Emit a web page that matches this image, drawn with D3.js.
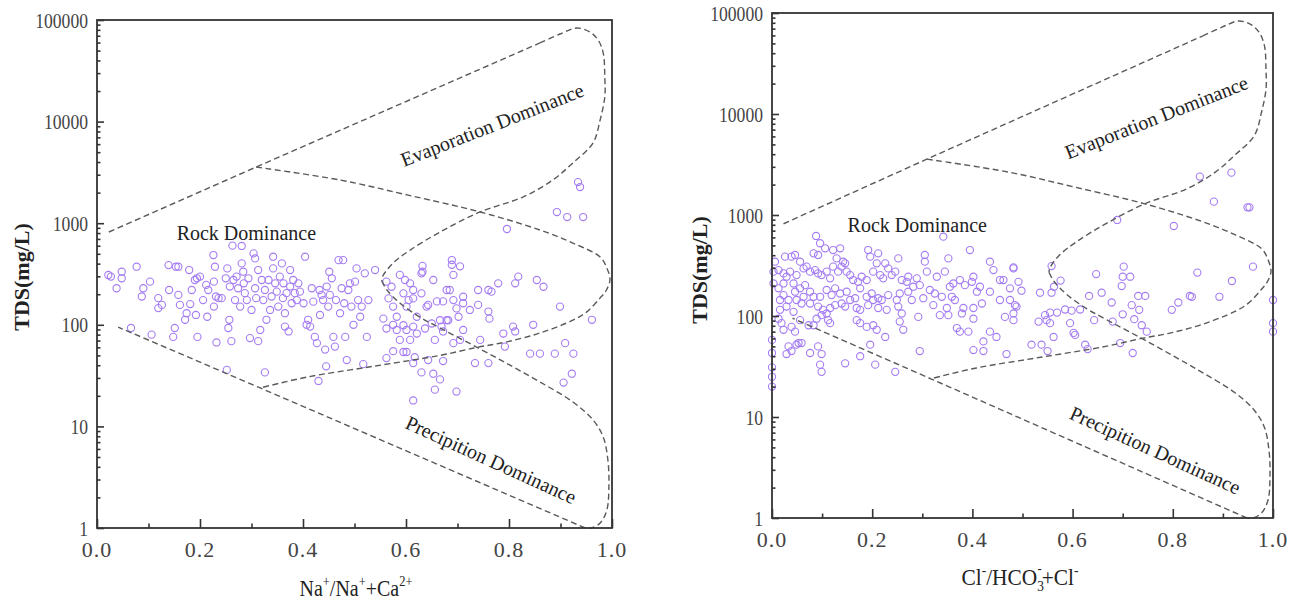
<!DOCTYPE html>
<html><head><meta charset="utf-8">
<script src="https://cdn.jsdelivr.net/npm/d3@7/dist/d3.min.js"></script>
<style>body{margin:0;background:#fff}svg{display:block}</style>
</head><body>
<svg id="c" width="1291" height="602"></svg>
<script>
// ---------- tick values & labels ----------
const xMajorTicks = [0, 0.2, 0.4, 0.6, 0.8, 1.0];
const xMajorLabels = ["0.0", "0.2", "0.4", "0.6", "0.8", "1.0"];
const xMinorTicks = [0.1, 0.3, 0.5, 0.7, 0.9];
const yMajorTicks = [1, 10, 100, 1000, 10000, 100000];
const yMajorLabels = ["1", "10", "100", "1000", "10000", "100000"];
const yMinorTicks = [2,3,4,5,6,7,8,9, 20,30,40,50,60,70,80,90, 200,300,400,500,600,700,800,900,
  2000,3000,4000,5000,6000,7000,8000,9000, 20000,30000,40000,50000,60000,70000,80000,90000];

// ---------- Gibbs boundary curves [x, TDS] ----------
const upperLine = [[0.023, 819], [0.309, 3570], [0.860, 59400]];
const evapLoop = [[0.860, 59400], [0.899, 72800], [0.932, 83400], [0.957, 76200], [0.973, 63600],
  [0.983, 47300], [0.986, 27500], [0.986, 17500], [0.977, 10400], [0.963, 6150], [0.924, 3920],
  [0.885, 2660], [0.827, 1810], [0.744, 1290], [0.666, 818], [0.608, 544], [0.575, 406],
  [0.555, 302], [0.553, 270]];
const precipLoop = [[0.553, 270], [0.563, 220], [0.588, 164], [0.627, 119], [0.666, 93], [0.738, 60],
  [0.802, 40], [0.860, 27.4], [0.924, 17.4], [0.963, 11.6], [0.983, 7.87], [0.992, 4.67],
  [0.994, 2.65], [0.990, 1.50], [0.977, 1.12], [0.960, 1.0], [0.948, 1.0]];
const lowerLine = [[0.948, 1.0], [0.317, 23.9], [0.041, 95]];
const innerCurve = [[0.309, 3570], [0.472, 2660], [0.602, 1900], [0.744, 1290], [0.860, 857],
  [0.924, 638], [0.977, 465], [0.990, 362], [0.996, 276], [0.988, 215], [0.977, 184], [0.951, 134],
  [0.924, 111], [0.860, 83], [0.796, 68], [0.738, 60], [0.666, 50], [0.536, 39], [0.408, 30.6],
  [0.317, 23.9]];

// ---------- samples: Na+/(Na+ + Ca2+) vs TDS ----------
const leftPoints = [
 [0.022,309],[0.027,298],[0.048,333],[0.048,287],[0.038,229],[0.066,93],[0.077,373],[0.087,190],[0.090,229],
 [0.103,266],[0.106,80],[0.119,183],[0.119,146],[0.126,157],[0.139,387],[0.140,220],[0.148,76],[0.151,93],
 [0.153,373],[0.158,373],[0.158,197],[0.161,157],[0.171,112],[0.174,130],[0.179,346],[0.181,160],[0.184,220],
 [0.190,276],[0.194,287],[0.192,125],[0.195,76],[0.200,298],[0.206,175],[0.212,247],[0.214,120],[0.216,220],
 [0.226,486],[0.227,266],[0.229,373],[0.227,151],[0.231,190],[0.232,67],[0.236,183],[0.242,183],[0.250,287],
 [0.253,359],[0.252,36],[0.255,93],[0.257,112],[0.258,238],[0.261,69],[0.263,601],[0.265,276],[0.268,175],
 [0.271,298],[0.274,229],[0.278,151],[0.281,597],[0.281,402],[0.284,333],[0.285,256],[0.287,205],[0.291,175],
 [0.294,287],[0.297,74],[0.300,140],[0.304,505],[0.307,450],[0.307,229],[0.309,183],[0.313,346],[0.313,69],
 [0.317,89],[0.320,276],[0.323,175],[0.326,220],[0.326,34],[0.329,112],[0.333,276],[0.336,140],[0.339,190],
 [0.342,468],[0.342,359],[0.346,256],[0.349,212],[0.352,151],[0.355,298],[0.359,402],[0.361,183],[0.362,256],
 [0.365,96],[0.365,130],[0.368,205],[0.372,86],[0.375,346],[0.375,238],[0.378,163],[0.381,276],[0.384,205],
 [0.388,175],[0.391,256],[0.394,212],[0.401,163],[0.404,468],[0.407,100],[0.410,112],[0.414,96],[0.417,229],
 [0.420,169],[0.423,76],[0.427,66],[0.430,28],[0.432,220],[0.433,125],[0.436,197],[0.439,175],[0.443,57],
 [0.445,39],[0.446,238],[0.449,151],[0.451,333],[0.452,197],[0.456,287],[0.459,76],[0.462,61],[0.464,175],
 [0.469,433],[0.472,130],[0.475,229],[0.478,433],[0.480,163],[0.482,76],[0.485,45],[0.488,220],[0.491,256],
 [0.494,151],[0.498,100],[0.501,266],[0.504,359],[0.507,175],[0.511,120],[0.514,151],[0.517,41],[0.520,321],
 [0.524,76],[0.527,175],
 [0.540,346],[0.632,380],[0.632,333],[0.689,434],[0.689,390],[0.705,376],[0.692,310],[0.562,266],[0.572,237],
 [0.588,310],[0.598,276],[0.608,256],[0.614,220],[0.630,321],[0.653,276],[0.679,220],[0.685,220],[0.711,189],
 [0.740,220],[0.760,220],[0.766,212],[0.779,256],[0.812,256],[0.818,298],[0.854,276],[0.867,237],[0.899,151],
 [0.961,112],[0.566,182],[0.575,151],[0.582,120],[0.595,204],[0.601,151],[0.605,175],[0.614,182],[0.621,120],
 [0.630,204],[0.640,151],[0.643,157],[0.650,103],[0.660,170],[0.666,111],[0.672,170],[0.679,111],[0.682,111],
 [0.692,175],[0.698,145],[0.702,120],[0.711,163],[0.724,140],[0.740,157],[0.760,135],[0.762,115],[0.789,82],
 [0.808,96],[0.812,86],[0.847,100],[0.841,52],[0.860,52],[0.889,52],[0.909,66],[0.925,52],[0.922,33],
 [0.906,27],[0.556,115],[0.562,92],[0.575,100],[0.582,89],[0.588,71],[0.595,99],[0.601,89],[0.608,71],
 [0.614,96],[0.621,82],[0.637,92],[0.656,71],[0.669,96],[0.672,86],[0.692,66],[0.705,71],[0.711,89],
 [0.744,71],[0.792,61],[0.734,42],[0.760,42],[0.562,47],[0.575,55],[0.595,54],[0.601,54],[0.614,42],
 [0.617,48],[0.630,34],[0.643,45],[0.653,33],[0.666,29],[0.656,23],[0.672,44],[0.698,22],[0.614,18],
 [0.893,1288],[0.913,1150],[0.944,1150],[0.796,877],[0.934,2540],[0.938,2270]
];

// ---------- samples: Cl-/(HCO3- + Cl-) vs TDS ----------
const rightPoints = [
 [0.088,620],[0.096,525],[0.083,417],[0.092,402],[0.106,468],[0.122,450],[0.136,468],[0.129,372],[0.142,345],
 [0.026,387],[0.039,387],[0.046,402],[0.056,345],[0.006,345],[0.003,275],[0.013,285],[0.023,264],[0.029,245],
 [0.036,275],[0.049,254],[0.063,296],[0.069,308],[0.076,275],[0.086,285],[0.092,264],[0.099,254],[0.109,275],
 [0.116,236],[0.122,308],[0.132,275],[0.139,308],[0.146,332],[0.149,275],[0.156,254],[0.162,227],[0.172,218],
 [0.179,245],[0.189,227],[0.192,450],[0.196,387],[0.209,332],[0.212,417],[0.226,332],[0.202,275],[0.216,254],
 [0.222,236],[0.232,296],[0.239,254],[0.246,275],[0.252,372],[0.259,227],[0.269,218],[0.272,245],[0.282,195],
 [0.289,236],[0.305,402],[0.305,345],[0.309,275],[0.315,181],[0.325,167],[0.329,245],[0.339,155],[0.342,610],
 [0.345,275],[0.352,372],[0.355,195],[0.362,210],[0.375,227],[0.385,202],[0.395,450],[0.399,218],[0.409,174],
 [0.435,345],[0.442,285],[0.455,227],[0.462,227],[0.482,296],[0.492,218],[0.402,245],[0.415,195],[0.295,202],
 [0.302,150],
 [0.003,210],[0.013,188],[0.023,210],[0.043,210],[0.046,174],[0.056,188],[0.066,202],[0.076,174],[0.016,144],
 [0.023,161],[0.033,144],[0.049,144],[0.063,155],[0.083,155],[0.096,155],[0.109,181],[0.119,161],[0.126,188],
 [0.136,167],[0.149,174],[0.139,133],[0.156,144],[0.166,150],[0.176,188],[0.189,155],[0.199,167],[0.202,144],
 [0.212,150],[0.219,144],[0.232,161],[0.249,144],[0.255,167],[0.272,174],[0.279,144],[0.322,128],[0.349,120],
 [0.359,155],[0.365,144],[0.382,120],[0.402,120],[0.419,133],[0.435,174],[0.455,144],[0.475,144],[0.488,124],
 [0.016,115],[0.029,124],[0.043,110],[0.059,133],[0.076,133],[0.092,124],[0.102,115],[0.116,120],[0.126,128],
 [0.146,124],[0.169,120],[0.176,115],[0.192,128],[0.212,120],[0.229,115],[0.252,124],[0.259,106],[0.292,98],
 [0.335,102],[0.352,102],[0.379,106],[0.402,94],[0.465,98],[0.482,91],
 [0.013,94],[0.019,85],[0.023,73],[0.039,78],[0.056,91],[0.073,81],[0.083,81],[0.089,94],[0.099,102],
 [0.109,106],[0.112,91],[0.116,85],[0.169,91],[0.176,85],[0.189,78],[0.202,81],[0.209,73],[0.226,62],
 [0.255,88],[0.262,73],[0.369,76],[0.375,70],[0.392,70],[0.435,70],[0.448,62],[0.046,70],[0.053,54],
 [0.059,54],[0.033,50],[0.029,42],[0.039,45],[0.049,52],[0.076,43],[0.092,50],[0.099,42],[0.096,33],
 [0.099,28],[0.146,34],[0.176,40],[0.196,52],[0.206,33],[0.246,28],[0.295,45],[0.402,46],[0.422,45],
 [0.422,56],[0.468,42],[0.0,58],[0.0,43],[0.0,31],[0.0,25],[0.0,20],
 [0.854,2400],[0.917,2625],[0.882,1355],[0.949,1191],[0.953,1191],[0.689,893],[0.802,778],[0.482,303],
 [0.558,312],[0.702,308],[0.700,245],[0.715,245],[0.698,198],[0.647,260],[0.576,224],[0.563,195],[0.558,170],
 [0.535,170],[0.498,178],[0.485,128],[0.482,106],[0.475,188],[0.633,158],[0.658,170],[0.678,136],[0.731,158],
 [0.745,158],[0.718,128],[0.733,115],[0.700,104],[0.723,93],[0.738,81],[0.748,70],[0.798,115],[0.811,136],
 [0.834,158],[0.838,155],[0.849,269],[0.893,155],[0.918,222],[0.960,308],[0.585,116],[0.598,113],[0.615,116],
 [0.569,108],[0.555,108],[0.545,102],[0.548,91],[0.555,85],[0.532,88],[0.595,85],[0.602,68],[0.605,65],
 [0.562,62],[0.518,52],[0.538,52],[0.625,52],[0.643,91],[0.680,88],[0.695,54],[1.0,144],[1.0,85],[1.0,70],
 [0.55,45],[0.63,47],[0.72,43]
];

// ---------- panels ----------
const panels = [
  { x0: 97, x1: 612, y0: 528, y1: 20, points: leftPoints, yTitle: [22, 277], xTitle: [356, 596],
    xTitleWidth: 113, xTitleParts: [["Na",0],["+",1],["/Na",0],["+",1],["+Ca",0],["2+",1]] },
  { x0: 772, x1: 1273, y0: 518, y1: 13, points: rightPoints, yTitle: [700, 270], xTitle: [1020, 585],
    xTitleWidth: 117, xTitleParts: [["Cl",0],["-",1],["/HCO",0],["3",2],["-",3],["+Cl",0],["-",1]] }
];

const annotations = [
  { text: "Rock Dominance", at: [0.29, 800], angle: 0 },
  { text: "Evaporation Dominance", at: [0.767, 9300], angle: -21.5 },
  { text: "Precipition Dominance", at: [0.765, 4.7], angle: 24.5 }
];

const svg = d3.select("#c");
const serif = "'Liberation Serif','Times New Roman',serif";
const ink = "#333";

panels.forEach(p => {
  const x = d3.scaleLinear().domain([0, 1]).range([p.x0, p.x1]);
  const y = d3.scaleLog().domain([1, 100000]).range([p.y0, p.y1]);
  const g = svg.append("g");

  // points
  g.append("g").selectAll("circle").data(p.points).join("circle")
    .attr("cx", d => x(d[0])).attr("cy", d => y(d[1])).attr("r", 3.6)
    .attr("fill", "none").attr("stroke", "#a47cf2").attr("stroke-width", 1.1);

  // boundary curves
  const lin = d3.line().x(d => x(d[0])).y(d => y(d[1]));
  const smooth = d3.line().x(d => x(d[0])).y(d => y(d[1])).curve(d3.curveCatmullRom.alpha(0.5));
  const dash = sel => sel.attr("fill", "none").attr("stroke", "#5a5a5a").attr("stroke-width", 1.4)
    .attr("stroke-dasharray", "6,3.5");
  g.append("path").attr("d", lin(upperLine)).call(dash);
  g.append("path").attr("d", smooth(evapLoop)).call(dash);
  g.append("path").attr("d", smooth(precipLoop)).call(dash);
  g.append("path").attr("d", lin(lowerLine)).call(dash);
  g.append("path").attr("d", smooth(innerCurve)).call(dash);

  // annotations
  annotations.forEach(a => {
    const cx = x(a.at[0]), cy = y(a.at[1]);
    g.append("text").attr("transform", `translate(${cx},${cy}) rotate(${a.angle})`)
      .attr("text-anchor", "middle").attr("dy", "0.35em")
      .attr("font-family", serif).attr("font-size", 20).attr("fill", "#222").text(a.text);
  });

  // ticks (inward)
  const tk = (axis) => g.append("g").call(axis).call(s => s.select(".domain").remove())
    .call(s => s.selectAll("line").attr("stroke", ink).attr("stroke-width", 1.6));
  tk(d3.axisBottom(x).tickValues(xMajorTicks).tickSize(-9).tickFormat("")).attr("transform", `translate(0,${p.y0})`);
  tk(d3.axisBottom(x).tickValues(xMinorTicks).tickSize(-4.5).tickFormat("")).attr("transform", `translate(0,${p.y0})`);
  tk(d3.axisLeft(y).tickValues(yMajorTicks).tickSize(-7).tickFormat("")).attr("transform", `translate(${p.x0},0)`);
  tk(d3.axisLeft(y).tickValues(yMinorTicks).tickSize(-3.5).tickFormat("")).attr("transform", `translate(${p.x0},0)`);

  // frame
  g.append("rect").attr("x", p.x0).attr("y", p.y1).attr("width", p.x1 - p.x0).attr("height", p.y0 - p.y1)
    .attr("fill", "none").attr("stroke", ink).attr("stroke-width", 1.8);

  // tick labels
  xMajorTicks.forEach((v, i) => {
    g.append("text").attr("x", x(v)).attr("y", p.y0 + 29).attr("text-anchor", "middle")
      .attr("font-family", serif).attr("font-size", 22).attr("fill", "#444")
      .attr("letter-spacing", 1).text(xMajorLabels[i]);
  });
  yMajorTicks.forEach((v, i) => {
    g.append("text").attr("transform", `translate(${p.x0 - 9},${y(v) + 7.5}) scale(0.8,1)`)
      .attr("text-anchor", "end").attr("font-family", serif).attr("font-size", 22).attr("fill", "#444")
      .text(yMajorLabels[i]);
  });

  // y title
  g.append("text").attr("transform", `translate(${p.yTitle[0] + 7},${p.yTitle[1]}) rotate(-90)`)
    .attr("text-anchor", "middle").attr("font-family", serif).attr("font-size", 22)
    .attr("font-weight", "bold").attr("fill", "#222").text("TDS(mg/L)");

  // x title with super/subscripts
  const t = g.append("text").attr("font-family", serif).attr("font-size", 24).attr("fill", "#222")
    .attr("text-anchor", "start");
  let state = 0;
  p.xTitleParts.forEach(([s, kind]) => {
    const ts = t.append("tspan").text(s);
    if (kind === 1) { ts.attr("font-size", 15).attr("dy", state === 0 ? -10 : 0); state = 1; }
    else if (kind === 2) { ts.attr("font-size", 15).attr("dy", state === 0 ? 6 : 16); state = 2; }
    else if (kind === 3) { ts.attr("font-size", 14).attr("dx", -7).attr("dy", -18); state = 3; }
    else { ts.attr("dy", state === 1 ? 10 : state === 2 ? -6 : state === 3 ? 12 : 0); state = 0; }
  });
  const bb = t.node().getBBox();
  const sx = p.xTitleWidth / bb.width;
  t.attr("transform", `translate(${p.xTitle[0] - p.xTitleWidth / 2},${p.xTitle[1]}) scale(${sx},1)`);
});
</script>
</body></html>
